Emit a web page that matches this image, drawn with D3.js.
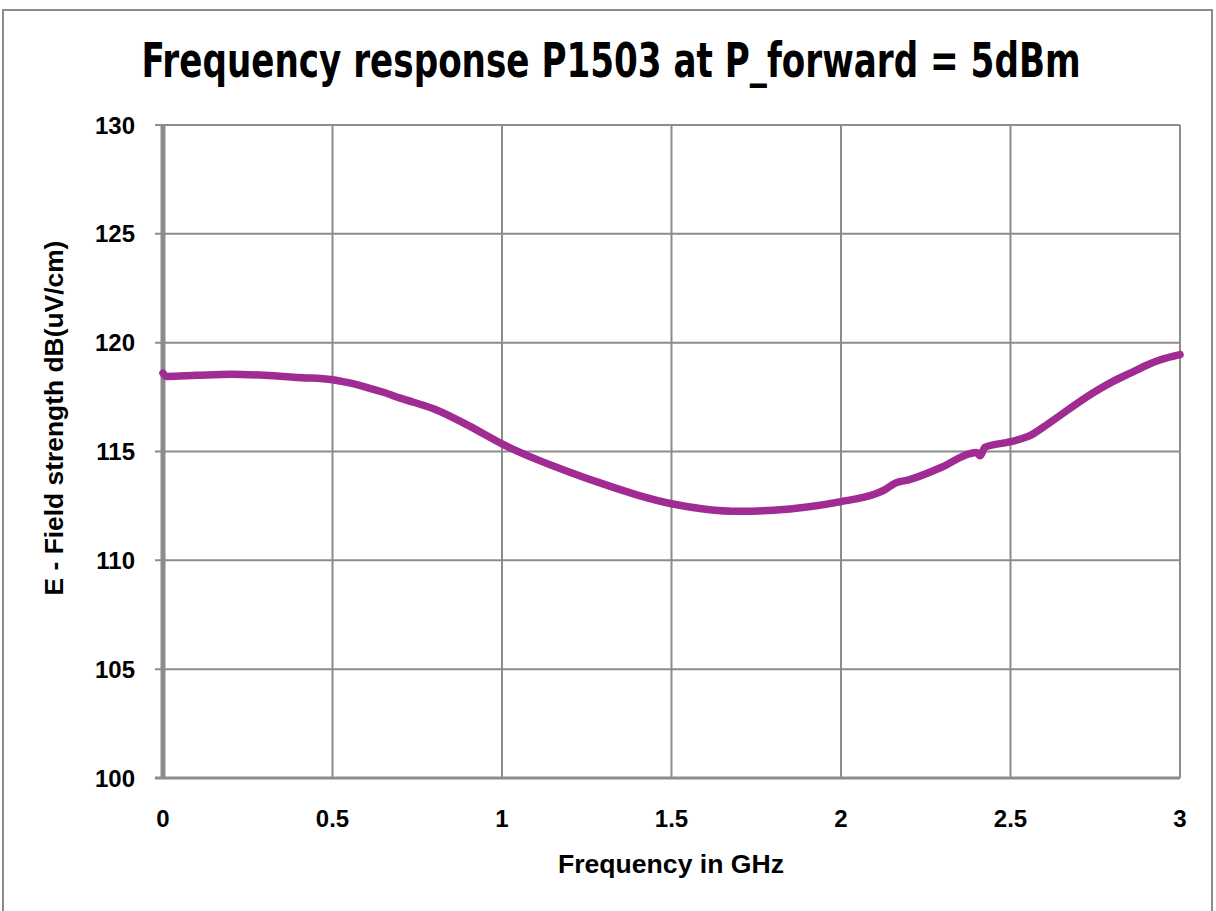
<!DOCTYPE html>
<html>
<head>
<meta charset="utf-8">
<script src="https://cdn.jsdelivr.net/npm/d3@7"></script>
<style>
  body { margin: 0; background: #fff; }
  text { font-family: "Liberation Sans", Arial, sans-serif; font-weight: bold; fill: #000; }
</style>
</head>
<body>
<div id="chart"></div>
<script>
// data
const freqGHz = [0, 0.01, 0.1, 0.2, 0.3, 0.4, 0.5, 0.55, 0.6, 0.65, 0.7, 0.8, 0.9, 1.0, 1.1, 1.2, 1.3, 1.4, 1.5,
  1.6, 1.7, 1.8, 1.9, 2.0, 2.1, 2.13, 2.16, 2.2, 2.3, 2.38, 2.4, 2.41, 2.425, 2.5, 2.56, 2.6, 2.65, 2.7,
  2.76, 2.8, 2.86, 2.9, 2.94, 3.0];
const fieldDb = [118.6, 118.45, 118.5, 118.55, 118.5, 118.4, 118.3, 118.15, 117.95, 117.72, 117.45, 116.95, 116.2, 115.35,
  114.65, 114.05, 113.5, 113.0, 112.6, 112.35, 112.25, 112.3, 112.45, 112.7, 113.05, 113.25, 113.55, 113.7,
  114.3, 114.9, 114.95, 114.8, 115.2, 115.45, 115.75, 116.15, 116.7, 117.25, 117.85, 118.2, 118.65, 118.95, 119.2, 119.45];
const xTicks = [0, 0.5, 1, 1.5, 2, 2.5, 3];
const yTicks = [100, 105, 110, 115, 120, 125, 130];

const W = 1216, H = 911;
const svg = d3.select('#chart').append('svg')
  .attr('width', W)
  .attr('height', H);

// outer frame
svg.append('rect')
  .attr('x', 3).attr('y', 10)
  .attr('width', 1209).attr('height', 920)
  .attr('fill', 'none')
  .attr('stroke', '#8c8c8c')
  .attr('stroke-width', 2);

const x = d3.scaleLinear().domain([0, 3]).range([163, 1180]);
const y = d3.scaleLinear().domain([100, 130]).range([778, 125]);

// gridlines
svg.append('g')
  .selectAll('line')
  .data(xTicks.slice(1))
  .join('line')
  .attr('x1', d => x(d)).attr('x2', d => x(d))
  .attr('y1', y(130)).attr('y2', y(100))
  .attr('stroke', '#8c8c8c').attr('stroke-width', 2);

svg.append('g')
  .selectAll('line')
  .data(yTicks.slice(1))
  .join('line')
  .attr('x1', x(0) - 8).attr('x2', x(3))
  .attr('y1', d => y(d)).attr('y2', d => y(d))
  .attr('stroke', '#8c8c8c').attr('stroke-width', 2);

// axes lines
svg.append('line')
  .attr('x1', x(0) - 8).attr('x2', x(3))
  .attr('y1', y(100)).attr('y2', y(100))
  .attr('stroke', '#8c8c8c').attr('stroke-width', 3);
svg.append('line')
  .attr('x1', x(0)).attr('x2', x(0))
  .attr('y1', y(130)).attr('y2', y(100) + 1)
  .attr('stroke', '#8c8c8c').attr('stroke-width', 5);

// tick labels
svg.append('g')
  .selectAll('text')
  .data(yTicks)
  .join('text')
  .attr('x', 135)
  .attr('y', d => y(d))
  .attr('dy', '0.36em')
  .attr('text-anchor', 'end')
  .attr('font-size', 24)
  .text(d => d);

svg.append('g')
  .selectAll('text')
  .data(xTicks)
  .join('text')
  .attr('x', d => x(d))
  .attr('y', 827)
  .attr('text-anchor', 'middle')
  .attr('font-size', 24)
  .text(d => d);

// the curve
const line = d3.line()
  .x((d, i) => x(freqGHz[i]))
  .y(d => y(d))
  .curve(d3.curveMonotoneX);

svg.append('path')
  .datum(fieldDb)
  .attr('d', line)
  .attr('fill', 'none')
  .attr('stroke', '#A02B93')
  .attr('stroke-width', 7.5)
  .attr('stroke-linecap', 'round')
  .attr('stroke-linejoin', 'round');

// fit a text to a wanted width by adjusting its font size
function fitWidth(sel, size, width) {
  sel.attr('font-size', size);
  const w = sel.node().getComputedTextLength();
  sel.attr('font-size', (size * width / w).toFixed(1));
}

// title: tall narrow glyphs, squeezed horizontally to the wanted width
const titleG = svg.append('g');
const title = titleG.append('text')
  .attr('x', 0)
  .attr('y', 0)
  .attr('text-anchor', 'middle')
  .attr('font-size', 48)
  .style('font-family', '"Liberation Sans Narrow", "DejaVu Sans Condensed", sans-serif')
  .text('Frequency response P1503 at P_forward = 5dBm');
const tw = title.node().getComputedTextLength();
titleG.attr('transform', `translate(611, 77) scale(${(940 / tw).toFixed(3)}, 1)`);

const xTitle = svg.append('text')
  .attr('x', 671)
  .attr('y', 873)
  .attr('text-anchor', 'middle')
  .text('Frequency in GHz');
fitWidth(xTitle, 24, 226);

const yTitle = svg.append('text')
  .attr('transform', 'translate(63, 418) rotate(-90)')
  .attr('text-anchor', 'middle')
  .text('E - Field strength dB(uV/cm)');
fitWidth(yTitle, 24, 355);
</script>
</body>
</html>
